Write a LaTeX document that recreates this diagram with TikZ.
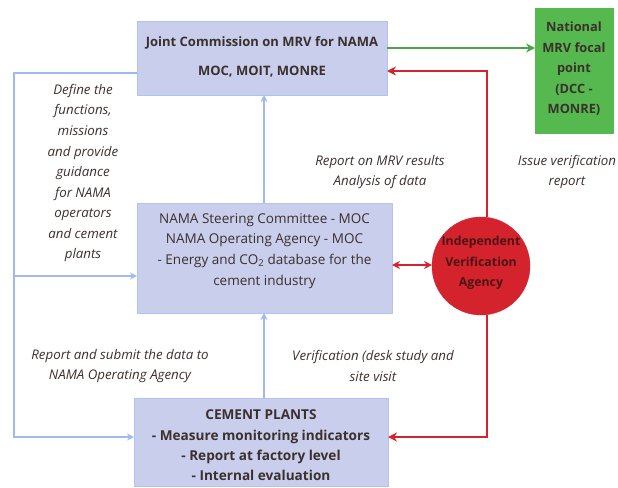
\documentclass[tikz,border=0pt]{standalone}
\usepackage{fontspec}
\setmainfont{Open Sans}
\usetikzlibrary{arrows.meta}
\definecolor{boxfill}{RGB}{200,206,236}
\definecolor{boxdraw}{RGB}{178,195,240}
\definecolor{blueline}{RGB}{160,185,245}
\definecolor{redline}{RGB}{212,35,45}
\definecolor{greenfill}{RGB}{85,185,80}
\definecolor{txt}{RGB}{60,48,45}
\definecolor{circtxt}{RGB}{75,20,20}
\tikzset{
  box/.style={draw=boxdraw, line width=1pt, fill=boxfill, inner sep=0pt},
  lbl/.style={align=center, text=txt, font=\fontsize{13.3}{20.5}\selectfont\itshape},
  bluearrow/.style={draw=blueline, line width=1.6pt, -{Stealth[length=7pt,width=7pt]}},
  redarrow/.style={draw=redline, line width=2pt, -{Stealth[length=9pt,width=9pt]}},
  reddouble/.style={draw=redline, line width=2pt, {Stealth[length=8pt,width=8pt]}-{Stealth[length=8pt,width=8pt]}},
  greenarrow/.style={draw=greenfill!90!black, line width=2pt, -{Stealth[length=9pt,width=9pt]}},
}
\begin{document}
\begin{tikzpicture}[x=1pt,y=-1pt]
\useasboundingbox (0,0) rectangle (618,487);
% boxes
\node[box, minimum width=250pt, minimum height=73pt] (top) at (262,58.5) {};
\node[font=\fontsize{13}{29}\selectfont\bfseries, text=txt, align=center] (toptxt) at (262,57) {Joint Commission on MRV for NAMA\\MOC, MOIT, MONRE};
\node[fill=greenfill, draw=greenfill, minimum width=78pt, minimum height=125pt, inner sep=0pt] (green) at (574,70.5) {};
\node[font=\fontsize{12.8}{20.5}\selectfont\bfseries, text=txt, align=center] (greentxt) at (574,69) {National\\MRV focal\\point\\(DCC -\\MONRE)};
\node[box, minimum width=255pt, minimum height=110pt] (mid) at (264.5,258) {};
\node[font=\fontsize{13.5}{20.7}\selectfont, text=txt, align=center] (midtxt) at (264.5,251) {NAMA Steering Committee - MOC\\NAMA Operating Agency - MOC\\- Energy and CO\textsubscript{2} database for the\\cement industry};
\node[circle, fill=redline, draw=redline, minimum size=98pt, inner sep=0pt] (iva) at (481,266) {};
\node[font=\fontsize{12.3}{20.5}\selectfont\bfseries, text=circtxt, align=center] (ivatxt) at (481,263) {Independent\\Verification\\Agency};
\node[box, minimum width=254pt, minimum height=88pt] (bot) at (261,442) {};
\node[font=\fontsize{13.6}{20.3}\selectfont\bfseries, text=txt, align=center] (bottxt) at (261,445.5) {CEMENT PLANTS\\- Measure monitoring indicators\\- Report at factory level\\- Internal evaluation};
% labels
\node[lbl] (lab1) at (83,173) {Define the\\functions,\\missions\\and provide\\guidance\\for NAMA\\operators\\and cement\\plants};
\node[lbl] (lab2) at (380,172) {Report on MRV results\\Analysis of data};
\node[lbl] (lab3) at (567,172) {Issue verification\\report};
\node[lbl] (lab4) at (120,366) {Report and submit the data to\\NAMA Operating Agency};
\node[lbl] (lab5) at (373,366) {Verification (desk study and\\site visit};
% coordinates
\coordinate (gstart) at (387,48);
\coordinate (gend) at (535,48);
\coordinate (rtop) at (387,71);
\coordinate (rbot) at (388,437);
\coordinate (rmidl) at (392,265);
\coordinate (rmidr) at (432,265);
\coordinate (lt) at (137,73);
\coordinate (lcorner1) at (14,73);
\coordinate (lcorner2) at (14,437);
\coordinate (lbend) at (14,276);
\coordinate (lmid) at (137,276);
\coordinate (lbot) at (134,437);
\coordinate (vx1) at (264,203);
\coordinate (vx1e) at (264,95);
\coordinate (vx2) at (264,398);
\coordinate (vx2e) at (264,313);
\coordinate (rv) at (487,71);
\coordinate (rvb) at (487,437);
% connectors
\draw[greenarrow] (gstart) -- (gend);
\draw[redarrow] (iva.north -| rv) -- (rv) -- (rtop);
\draw[redarrow] (iva.south -| rvb) -- (rvb) -- (rbot);
\draw[reddouble] (rmidl) -- (rmidr);
\draw[bluearrow] (vx1) -- (vx1e);
\draw[bluearrow] (vx2) -- (vx2e);
\draw[bluearrow] (lt) -- (lcorner1) -- (lcorner2) -- (lbot);
\draw[bluearrow] (lbend) -- (lmid);
\end{tikzpicture}
\end{document}
